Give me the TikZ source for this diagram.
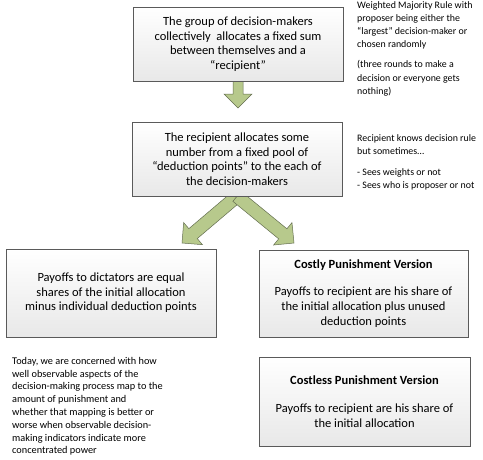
\documentclass[tikz,border=0pt]{standalone}
\usepackage{fontspec}
\setmainfont{Carlito}
\usetikzlibrary{calc,shadows,backgrounds}
\definecolor{arrowgreen}{RGB}{183,201,140}
\definecolor{arrowline}{RGB}{100,110,80}
\definecolor{boxline}{RGB}{90,90,90}
% start, tip, shaft half width, head half width
\newcommand{\blockarrow}[4]{
  \path ($(#2)!#4!(#1)$) coordinate (hb);
  \draw[blockarr] ($(#1)!#3!90:(#2)$) -- ($(hb)!#3!90:(#2)$) -- ($(hb)!#4!90:(#2)$) -- (#2)
    -- ($(hb)!#4!-90:(#2)$) -- ($(hb)!#3!-90:(#2)$) -- ($(#1)!#3!-90:(#2)$) -- cycle;}

\begin{document}
\begin{tikzpicture}[x=1pt,y=-1pt,
	stagebox/.style={draw=boxline,line width=0.6pt,top color=white,bottom color=black!9,
		drop shadow={shadow xshift=1.2pt,shadow yshift=-1.2pt,fill=black!35},
		align=center,inner sep=2pt,font=\fontsize{12.5}{14.5}\selectfont},
	blockarr/.style={fill=arrowgreen,draw=arrowline,line width=0.5pt,line join=miter},
	note/.style={anchor=north west,align=left,inner sep=0pt,font=\fontsize{9.9}{13.2}\selectfont}]
					\useasboundingbox (0,0) rectangle (483,459);
					%BOXES
					\node[stagebox,minimum width=210pt,minimum height=74pt] (grp) at (238,44)
						{The group of decision-makers\\ collectively\ \ allocates a fixed sum\\ between themselves and a\\ “recipient”};
					\node[stagebox,minimum width=210pt,minimum height=74pt] (rcp) at (237,159)
						{The recipient allocates some\\ number from a fixed pool of\\ “deduction points” to the each of\\ the decision-makers};
					\node[stagebox,minimum width=210pt,minimum height=88pt] (dict) at (111,293)
						{Payoffs to dictators are equal\\ shares of the initial allocation\\ minus individual deduction points};
					\node[stagebox,minimum width=209pt,minimum height=87pt] (costly) at (363.5,293.5)
						{\textbf{Costly Punishment Version}\\[12pt] Payoffs to recipient are his share of\\[0.5pt] the initial allocation plus unused\\[0.5pt] deduction points};
					\node[stagebox,minimum width=211pt,minimum height=89pt] (costless) at (364.5,401.5)
						{\textbf{Costless Punishment Version}\\[14pt] Payoffs to recipient are his share of\\ the initial allocation};
					%NOTES
					\node[note] (rule) at (357,1)
						{Weighted Majority Rule with\\ proposer being either the\\ “largest” decision-maker or\\ chosen randomly\\[7pt] (three rounds to make a\\ decision or everyone gets\\ nothing)};
					\node[note] (knows) at (357,134)
						{Recipient knows decision rule\\ but sometimes…\\[8pt] - Sees weights or not\\ - Sees who is proposer or not};
					\node[note,font=\fontsize{10.3}{12.8}\selectfont] (today) at (12,357)
						{Today, we are concerned with how\\ well observable aspects of the\\ decision-making process map to the\\ amount of punishment and\\ whether that mapping is better or\\ worse when observable decision-\\ making indicators indicate more\\ concentrated power};
					%ARROWS
					\coordinate (dtip) at (238,108);
					\coordinate (ltip) at (182,243);
					\coordinate (rtip) at (294,243);
					\begin{scope}[on background layer]
						\blockarrow{grp.south}{dtip}{5pt}{14pt}
						\blockarrow{rcp.south}{ltip}{6.5pt}{14.5pt}
						\blockarrow{rcp.south}{rtip}{6.5pt}{14.5pt}
					\end{scope}
\end{tikzpicture}
\end{document}
